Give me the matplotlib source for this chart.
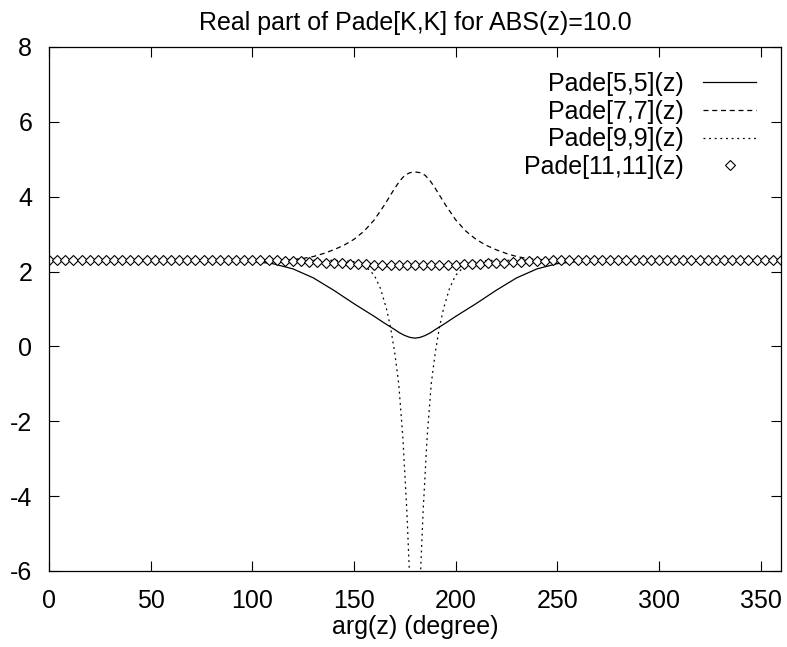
import matplotlib
matplotlib.use("Agg")
import matplotlib.pyplot as plt

plt.rcParams['font.family'] = ['Liberation Sans', 'DejaVu Sans']
plt.rcParams['axes.unicode_minus'] = False

# Pade[5,5] (solid)
deg5 = [0, 60, 90, 100, 110, 120, 130, 140, 150, 160, 165, 170, 172.5, 175, 177.5, 180,
        182.5, 185, 187.5, 190, 195, 200, 210, 220, 230, 240, 250, 260, 270, 300, 360]
pade5 = [2.30, 2.30, 2.29, 2.27, 2.21, 2.07, 1.83, 1.50, 1.14, 0.80, 0.62, 0.45, 0.36, 0.29, 0.24, 0.22,
         0.24, 0.29, 0.36, 0.45, 0.62, 0.80, 1.14, 1.50, 1.83, 2.07, 2.21, 2.27, 2.29, 2.30, 2.30]

# Pade[7,7] (dashed)
deg7 = [0, 100, 110, 115, 120, 125, 130, 135, 140, 145, 150, 155, 160, 165, 167.5, 170, 172.5, 175,
        177.5, 180, 182.5, 185, 187.5, 190, 192.5, 195, 200, 205, 210, 215, 220, 225, 230, 235,
        240, 245, 250, 260, 360]
pade7 = [2.30, 2.30, 2.30, 2.31, 2.32, 2.35, 2.40, 2.48, 2.58, 2.70, 2.86, 3.08, 3.38, 3.78, 4.00, 4.22,
         4.42, 4.57, 4.64, 4.66, 4.64, 4.57, 4.42, 4.22, 4.00, 3.78, 3.38, 3.08, 2.86, 2.70, 2.58, 2.48,
         2.40, 2.35, 2.32, 2.31, 2.30, 2.30, 2.30]

# Pade[9,9] (dotted)
deg9 = [0, 140, 145, 150, 155, 160, 163, 166, 168, 170, 172, 174, 176, 178, 180,
        182, 184, 186, 188, 190, 192, 194, 197, 200, 205, 210, 215, 220, 360]
pade9 = [2.30, 2.30, 2.29, 2.26, 2.18, 1.90, 1.55, 1.00, 0.50, -0.15, -1.0, -2.4, -4.4, -7.0, -15.0,
         -7.0, -4.4, -2.4, -1.0, -0.15, 0.50, 1.00, 1.55, 1.90, 2.18, 2.26, 2.29, 2.30, 2.30]

# Pade[11,11] (diamonds), every 4 degrees
deg11 = list(range(0, 361, 4))
pade11 = ([2.30] * 29 +
          [2.29, 2.28, 2.27, 2.26, 2.25, 2.24, 2.23, 2.22, 2.21, 2.20, 2.19, 2.18, 2.18,
           2.17, 2.17, 2.17, 2.17,
           2.17, 2.17, 2.17, 2.18, 2.18, 2.19, 2.20, 2.21, 2.22, 2.23, 2.24, 2.25, 2.26,
           2.27, 2.28, 2.29] +
          [2.30] * 29)

fs = 18

fig = plt.figure(figsize=(7.87, 6.47), dpi=100)
ax = fig.add_axes([0.0623, 0.1175, 0.93, 0.81])

ax.plot(deg5, pade5, color='black', lw=0.9, label='Pade[5,5](z)')
ax.plot(deg7, pade7, color='black', lw=0.9, dashes=(4, 3), label='Pade[7,7](z)')
ax.plot(deg9, pade9, color='black', lw=0.9, dashes=(1.5, 3), label='Pade[9,9](z)')
ax.plot(deg11, pade11, ls='none', marker='D', ms=5.5, mfc='white', mec='black', mew=0.8,
        label='Pade[11,11](z)')

ax.set_xlim(0, 360)
ax.set_ylim(-6, 8)
ax.set_xticks(range(0, 351, 50))
ax.set_yticks(range(-6, 9, 2))
ax.tick_params(direction='in', length=7, top=True, right=True, labelsize=fs)
ax.tick_params(axis='x', pad=13)
ax.tick_params(axis='y', pad=12)
for s in ax.spines.values():
    s.set_linewidth(0.9)

ax.set_title('Real part of Pade[K,K] for ABS(z)=10.0', fontsize=fs, pad=12)
ax.set_xlabel('arg(z) (degree)', fontsize=fs, labelpad=1.5)

ax.legend(loc='upper right', frameon=False, markerfirst=False, fontsize=fs,
          handlelength=2.1, labelspacing=0.15, borderpad=0, borderaxespad=1.0,
          handletextpad=0.8)

fig.savefig('out.png', dpi=100)
